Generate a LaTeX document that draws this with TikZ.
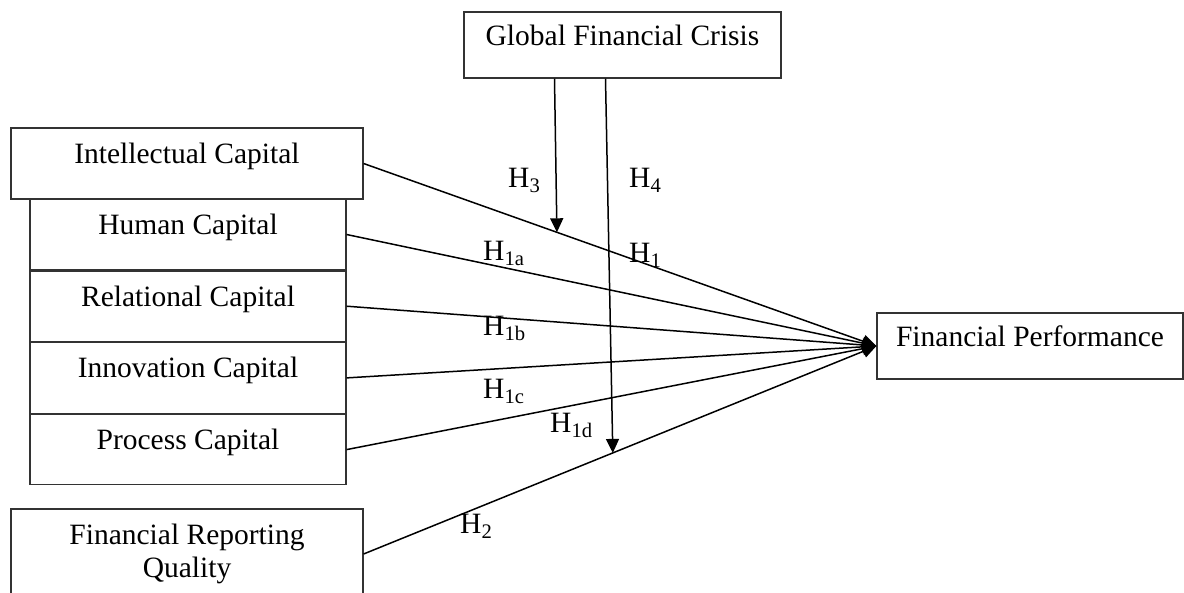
\documentclass[tikz,border=0pt]{standalone}
\usepackage{fontspec}
\setmainfont{Liberation Serif}
\usetikzlibrary{positioning,arrows.meta,calc}

\begin{document}
\begin{tikzpicture}[
  x=1pt, y=-1pt,
  box/.style={draw=black!80, line width=1.2pt, fill=white, inner sep=0pt,
    font=\fontsize{29.5}{33}\selectfont},
  oneline/.style={box, text height=0.7em, text depth=0.7em},
  row/.style={oneline, minimum width=316pt, minimum height=70.5pt},
  path/.style={line width=1.5pt, -{Triangle[length=14pt,width=13pt]}},
  hyp/.style={anchor=base west, inner sep=0pt, font=\fontsize{29.5}{33}\selectfont}
]
\clip (0,0) rectangle (1184,592);

\node[oneline, minimum width=317pt, minimum height=66pt] (gfc) at (622.5,45) {Global Financial Crisis};
\node[oneline, minimum width=352pt, minimum height=71pt] (ic) at (187,163.5) {Intellectual Capital};
\node[row] (hc) at (188,234.5) {Human Capital};
\node[row, below=0pt of hc] (rc) {Relational Capital};
\node[row, below=0pt of rc] (inc) {Innovation Capital};
\node[row, below=0pt of inc] (pc) {Process Capital};
\node[box, align=center, minimum width=352pt, minimum height=90pt] (frq) at (187,554) {Financial Reporting\\Quality};
\node[oneline, minimum width=306pt, minimum height=66pt] (fp) at (1030,346) {Financial Performance};

\draw[path] (ic.east) -- (fp.west);
\draw[path] (hc.east) -- (fp.west);
\draw[path] (rc.east) -- (fp.west);
\draw[path] (inc.east) -- (fp.west);
\draw[path] (pc.east) -- (fp.west);
\draw[path] (frq.east) -- (fp.west);

\coordinate (m3) at ($(ic.east)!0.377!(fp.west)$);
\coordinate (m4) at ($(frq.east)!0.486!(fp.west)$);
\draw[path] ([xshift=-68pt]gfc.south) -- (m3);
\draw[path] ([xshift=-17pt]gfc.south) -- (m4);

\node[hyp] (h3) at (508,187) {H\textsubscript{3}};
\node[hyp] (h4) at (629,187) {H\textsubscript{4}};
\node[hyp] (h1) at (629,262) {H\textsubscript{1}};
\node[hyp] (h1a) at (483,260) {H\textsubscript{1a}};
\node[hyp] (h1b) at (483,335) {H\textsubscript{1b}};
\node[hyp] (h1c) at (483,398) {H\textsubscript{1c}};
\node[hyp] (h1d) at (550,432) {H\textsubscript{1d}};
\node[hyp] (h2) at (460,533) {H\textsubscript{2}};
\end{tikzpicture}
\end{document}
